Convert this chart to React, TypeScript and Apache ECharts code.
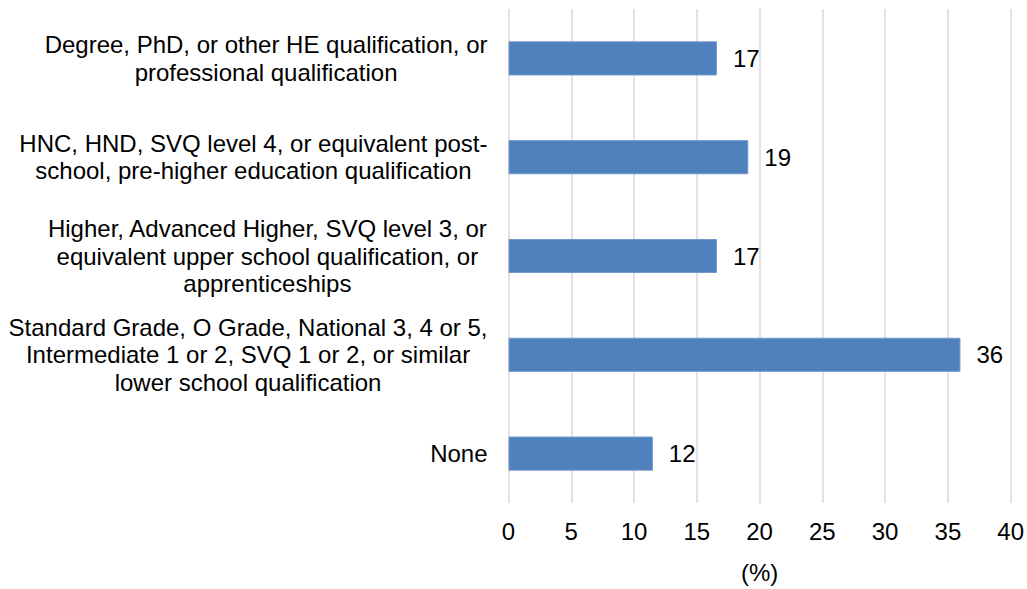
import React, { useEffect, useRef } from "react";
import * as echarts from "echarts";

const categories: string[] = [
  "Degree, PhD, or other HE qualification, or\nprofessional qualification",
  "HNC, HND, SVQ level 4, or equivalent post-\nschool, pre-higher education qualification",
  "Higher, Advanced Higher, SVQ level 3, or\nequivalent upper school qualification, or\napprenticeships",
  "Standard Grade, O Grade, National 3, 4 or 5,\nIntermediate 1 or 2, SVQ 1 or 2, or similar\nlower school qualification",
  "None",
];
const values: number[] = [16.6, 19.1, 16.6, 36.0, 11.5];
const xTicks = { min: 0, max: 40, interval: 5 };
const xName = "(%)";

const FONT = "'Liberation Sans', Arial, sans-serif";
const FS = 24;
const LH = 27.5;

export default function App() {
  const ref = useRef<HTMLDivElement>(null);
  useEffect(() => {
    document.body.style.margin = "0";
    if (!ref.current) return;
    const chart = echarts.init(ref.current, null, { renderer: "svg" });
    chart.setOption({
      animation: false,
      backgroundColor: "#ffffff",
      textStyle: { fontFamily: FONT, color: "#000" },
      grid: { left: 508.5, right: 15, top: 9, bottom: 80, containLabel: false },
      xAxis: {
        type: "value",
        min: xTicks.min,
        max: xTicks.max,
        interval: xTicks.interval,
        name: xName,
        nameLocation: "middle",
        nameGap: 57,
        nameTextStyle: { fontFamily: FONT, fontSize: FS, color: "#000" },
        axisLine: { show: false },
        axisTick: { show: false },
        axisLabel: { fontFamily: FONT, fontSize: FS, color: "#000", margin: 16 },
        splitLine: { show: true, lineStyle: { color: "#D9D9D9", width: 1.5 } },
      },
      yAxis: {
        type: "category",
        data: categories,
        inverse: true,
        axisLine: { show: false },
        axisTick: { show: false },
        splitLine: { show: false },
        axisLabel: {
          margin: 21,
          fontFamily: FONT,
          fontSize: FS,
          color: "#000",
          lineHeight: LH,
          formatter: (v: string) =>
            v
              .split("\n")
              .map((l) => `{c|${l}}`)
              .join("\n"),
          rich: {
            c: { align: "center", fontFamily: FONT, fontSize: FS, color: "#000", lineHeight: LH },
          },
        },
      },
      series: [
        {
          type: "bar",
          data: values,
          barWidth: "34.5%",
          itemStyle: { color: "#4F81BD", borderColor: "#6F97C9", borderWidth: 1 },
          label: {
            show: true,
            position: "right",
            distance: 16,
            fontFamily: FONT,
            fontSize: FS,
            color: "#000",
            formatter: (p: any) => String(Math.round(p.value)),
          },
        },
      ],
    });
    return () => chart.dispose();
  }, []);
  return <div ref={ref} style={{ width: 1027, height: 589 }} />;
}
